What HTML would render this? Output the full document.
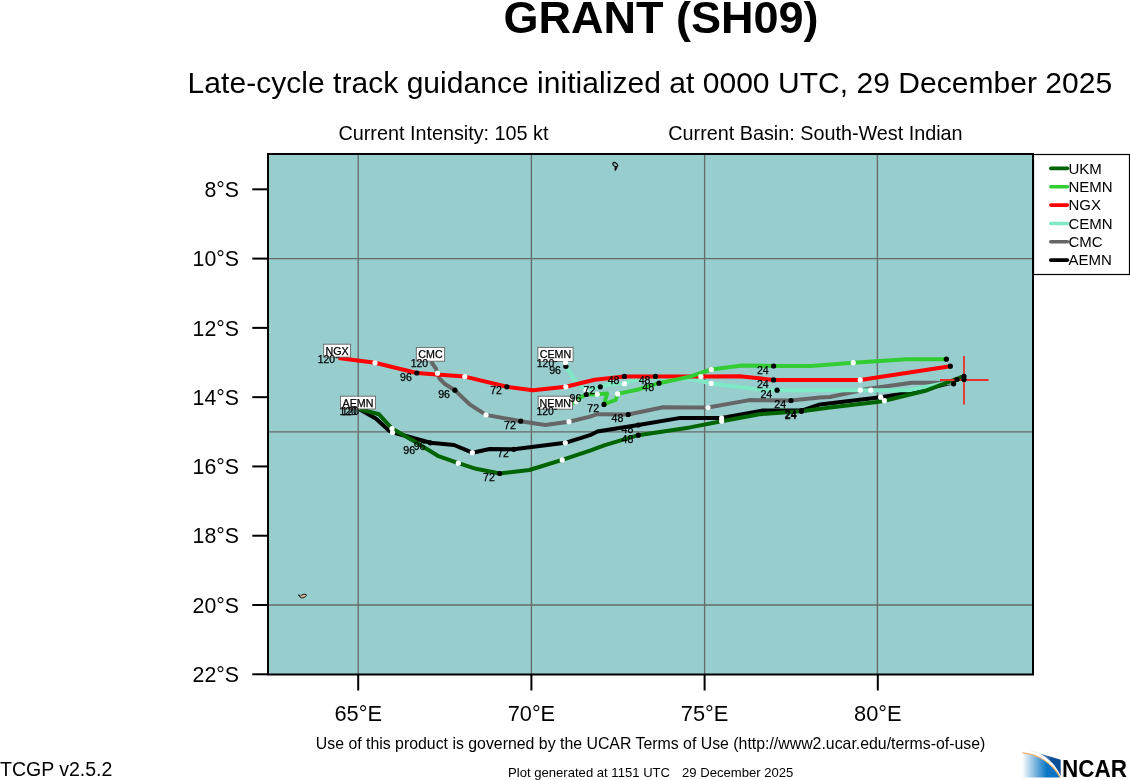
<!DOCTYPE html>
<html><head><meta charset="utf-8"><style>
html,body{margin:0;padding:0;background:#fff;width:1130px;height:780px;overflow:hidden;font-family:"Liberation Sans", sans-serif;}
</style></head><body>
<svg width="1130" height="780" viewBox="0 0 1130 780" style="position:absolute;left:0;top:0;will-change:transform"><rect x="268" y="154" width="765" height="520.5" fill="#97cdcd"/><line x1="358.2" y1="154" x2="358.2" y2="674.5" stroke="#666a6a" stroke-width="1.3"/><line x1="531.4" y1="154" x2="531.4" y2="674.5" stroke="#666a6a" stroke-width="1.3"/><line x1="704.6" y1="154" x2="704.6" y2="674.5" stroke="#666a6a" stroke-width="1.3"/><line x1="877.4" y1="154" x2="877.4" y2="674.5" stroke="#666a6a" stroke-width="1.3"/><line x1="268" y1="258.6" x2="1033" y2="258.6" stroke="#666a6a" stroke-width="1.3"/><line x1="268" y1="431.8" x2="1033" y2="431.8" stroke="#666a6a" stroke-width="1.3"/><line x1="268" y1="605.0" x2="1033" y2="605.0" stroke="#666a6a" stroke-width="1.3"/><ellipse cx="615.2" cy="164.6" rx="2.7" ry="1.7" transform="rotate(40 615.2 164.6)" fill="none" stroke="#000" stroke-width="1.1"/><path d="M615.6,166.2 C617,166.6 617.2,168 616.4,168.8 C616,169.8 615.6,170.6 615.2,170.6 C614.8,169.4 614.9,167.6 615.6,166.2 Z" fill="#111" stroke="#000" stroke-width="0.8"/><path d="M298.6,594.8 L300.6,596.1 C301.6,594.6 304.6,593.6 306.2,594.6 C306.8,595.8 305,597.6 302.4,597.9 C301,598.1 299.8,597.4 298.6,594.8 Z" fill="#d8b690" stroke="#000" stroke-width="0.9"/><path d="M964,376.4 L951.4,382.8 L909.2,392.7 L880.7,397.2 L820,404.4 L801.5,410.6 L761.9,410.6 L721.6,418 L680.5,417.9 L638.3,425 L597.4,431.5 L590,435.2 L565.3,442.8 L513.9,449.3 L489.7,449 L472.4,452.7 L454,445 L430.4,442.8 L397,433.5 L389.5,431 L375.8,418.6 L359.8,409.6" fill="none" stroke="#000000" stroke-width="4.0" stroke-linejoin="round" stroke-linecap="butt"/><path d="M953.8,383.4 L936.5,382.8 L911.7,382.8 L867,389 L830,397 L820,397.6 L791,400.5 L749.5,400.1 L708,407.5 L690,407.5 L663.1,407.3 L628.2,414.5 L597.4,414.2 L590,416.6 L569,421.7 L545.3,424.9 L520.7,421.2 L486,414.9 L469.7,404.4 L454.9,390.2 L444.9,384 L439.5,378.6 L437.5,373.2 L435.9,368.7 L431,361.5" fill="none" stroke="#666666" stroke-width="4.0" stroke-linejoin="round" stroke-linecap="butt"/><path d="M964,379.5 L925.3,387 L909.2,390.2 L830,390.2 L777.1,390.2 L759.4,389.6 L711.3,383.4 L690,379 L655.4,377.5 L640,379 L630,381.2 L624.4,383.7 L609.6,384.3 L600.3,386.8 L586,390 L582.3,387.4 L574.6,380 L565.9,366.3 L565.6,362.9" fill="none" stroke="#7fe8c4" stroke-width="4.0" stroke-linejoin="round" stroke-linecap="butt"/><path d="M950.3,366.2 L860.3,379.9 L851,379.9 L773.6,379.9 L739.6,376.2 L700.9,376.6 L684,376.4 L624.4,376.4 L594.7,379.7 L565.8,386.8 L533,390.2 L506.9,386.8 L464.8,376.6 L440,374.7 L416.8,373 L375,362.8 L338.5,357.9" fill="none" stroke="#ff0000" stroke-width="4.0" stroke-linejoin="round" stroke-linecap="butt"/><path d="M946.4,359.2 L906.7,359.2 L853.2,362.7 L811,365.9 L773.6,366 L742,365.4 L711.3,369.5 L690,376.6 L659,383.2 L639.2,389.2 L617.6,393.9 L615.8,399.8 L612.7,401 L604,404.4 L607.1,393.6 L597.2,394.2 L586.3,394.5 L578.6,398.5 L576.1,401.6 L558.7,408.3" fill="none" stroke="#32cd32" stroke-width="4.0" stroke-linejoin="round" stroke-linecap="butt"/><path d="M962,376.8 L925.3,390.8 L884.4,400.7 L877,402 L830,407.5 L801.5,411.3 L759.4,414.3 L721.6,421.2 L690,427.4 L638.3,435.2 L604.9,445.1 L590,450.7 L562.2,459.9 L529.4,470 L499.7,473.5 L476.1,468.8 L458.3,463.2 L437.8,455.8 L415.5,442 L392,428.5 L379,414.3 L359.7,409.3" fill="none" stroke="#006400" stroke-width="4.0" stroke-linejoin="round" stroke-linecap="butt"/><rect x="323.7" y="344.2" width="26.9" height="12.9" fill="#fff" stroke="#666" stroke-width="0.9"/><text x="337.15" y="354.8" font-size="10.7" text-anchor="middle" stroke="#000" stroke-width="0.25" font-family='"Liberation Sans", sans-serif'>NGX</text><rect x="416.3" y="347.6" width="28.3" height="13.6" fill="#fff" stroke="#666" stroke-width="0.9"/><text x="430.45" y="357.6" font-size="10.7" text-anchor="middle" stroke="#000" stroke-width="0.25" font-family='"Liberation Sans", sans-serif'>CMC</text><rect x="537.9" y="347.4" width="35.2" height="14" fill="#fff" stroke="#666" stroke-width="0.9"/><text x="555.5" y="358.2" font-size="10.7" text-anchor="middle" stroke="#000" stroke-width="0.25" font-family='"Liberation Sans", sans-serif'>CEMN</text><rect x="538.2" y="396.2" width="34.3" height="13" fill="#fff" stroke="#666" stroke-width="0.9"/><text x="555.35" y="406.8" font-size="10.7" text-anchor="middle" stroke="#000" stroke-width="0.25" font-family='"Liberation Sans", sans-serif'>NEMN</text><rect x="340.5" y="396.2" width="35" height="12.8" fill="#fff" stroke="#666" stroke-width="0.9"/><text x="358.0" y="406.8" font-size="10.7" text-anchor="middle" stroke="#000" stroke-width="0.25" font-family='"Liberation Sans", sans-serif'>AEMN</text><line x1="964" y1="356" x2="964" y2="404.5" stroke="#e8302a" stroke-width="1.8"/><line x1="940" y1="380" x2="988.5" y2="380" stroke="#e8302a" stroke-width="1.8"/><circle cx="860.3" cy="379.9" r="2.6" fill="#fff"/><circle cx="700.9" cy="376.6" r="2.6" fill="#fff"/><circle cx="565.8" cy="386.8" r="2.6" fill="#fff"/><circle cx="464.8" cy="376.6" r="2.6" fill="#fff"/><circle cx="375" cy="362.8" r="2.6" fill="#fff"/><circle cx="853.2" cy="362.7" r="2.6" fill="#fff"/><circle cx="711.3" cy="369.5" r="2.6" fill="#fff"/><circle cx="617.6" cy="393.9" r="2.6" fill="#fff"/><circle cx="597.2" cy="394.2" r="2.6" fill="#fff"/><circle cx="576.1" cy="401.6" r="2.6" fill="#fff"/><circle cx="870.8" cy="390.2" r="2.6" fill="#fff"/><circle cx="860.3" cy="390.2" r="2.6" fill="#fff"/><circle cx="711.3" cy="383.4" r="2.6" fill="#fff"/><circle cx="624.4" cy="383.7" r="2.6" fill="#fff"/><circle cx="586" cy="390" r="2.6" fill="#fff"/><circle cx="565.6" cy="362.9" r="2.6" fill="#fff"/><circle cx="708" cy="407.5" r="2.6" fill="#fff"/><circle cx="569" cy="421.7" r="2.6" fill="#fff"/><circle cx="486" cy="414.9" r="2.6" fill="#fff"/><circle cx="437.5" cy="373.2" r="2.6" fill="#fff"/><circle cx="880.7" cy="397.2" r="2.6" fill="#fff"/><circle cx="721.6" cy="418" r="2.6" fill="#fff"/><circle cx="565.3" cy="442.8" r="2.6" fill="#fff"/><circle cx="472.4" cy="452.7" r="2.6" fill="#fff"/><circle cx="392.6" cy="432.5" r="2.6" fill="#fff"/><circle cx="884.4" cy="400.7" r="2.6" fill="#fff"/><circle cx="721.6" cy="421.2" r="2.6" fill="#fff"/><circle cx="562.2" cy="459.9" r="2.6" fill="#fff"/><circle cx="458.3" cy="463.2" r="2.6" fill="#fff"/><circle cx="392" cy="428.5" r="2.6" fill="#fff"/><circle cx="946.4" cy="359.2" r="2.6" fill="#000"/><circle cx="950.3" cy="366.2" r="2.6" fill="#000"/><circle cx="953.7" cy="383.8" r="2.6" fill="#000"/><circle cx="957" cy="379.5" r="2.6" fill="#000"/><circle cx="964" cy="376.4" r="2.6" fill="#000"/><circle cx="964" cy="379.5" r="2.6" fill="#000"/><circle cx="773.6" cy="366" r="2.6" fill="#000"/><circle cx="659" cy="383.2" r="2.6" fill="#000"/><circle cx="604" cy="404.4" r="2.6" fill="#000"/><circle cx="586.3" cy="394.5" r="2.6" fill="#000"/><circle cx="773.6" cy="379.9" r="2.6" fill="#000"/><circle cx="624.4" cy="376.4" r="2.6" fill="#000"/><circle cx="506.9" cy="386.8" r="2.6" fill="#000"/><circle cx="416.8" cy="373" r="2.6" fill="#000"/><circle cx="777.1" cy="390.2" r="2.6" fill="#000"/><circle cx="655.4" cy="376.4" r="2.6" fill="#000"/><circle cx="600.3" cy="386.8" r="2.6" fill="#000"/><circle cx="565.9" cy="366.3" r="2.6" fill="#000"/><circle cx="791" cy="400.5" r="2.6" fill="#000"/><circle cx="628.2" cy="414.5" r="2.6" fill="#000"/><circle cx="520.7" cy="421.2" r="2.6" fill="#000"/><circle cx="454.9" cy="390.2" r="2.6" fill="#000"/><circle cx="801.5" cy="410.6" r="2.6" fill="#000"/><circle cx="638.3" cy="425" r="2.6" fill="#000"/><circle cx="513.9" cy="449.3" r="2.6" fill="#000"/><circle cx="430.4" cy="442.8" r="2.6" fill="#000"/><circle cx="801.5" cy="411.3" r="2.6" fill="#000"/><circle cx="638.3" cy="435.2" r="2.6" fill="#000"/><circle cx="499.7" cy="473.5" r="2.6" fill="#000"/><circle cx="565.6" cy="362.6" r="2.6" fill="#fff"/><line x1="335.6" y1="357.6" x2="339.6" y2="357.6" stroke="#222" stroke-width="1.1"/><line x1="554" y1="361.6" x2="557.2" y2="361.6" stroke="#222" stroke-width="1.1"/><line x1="553.9" y1="409.3" x2="557.2" y2="409.3" stroke="#222" stroke-width="1.1"/><text x="335.1" y="363.1" font-size="10.4" text-anchor="end" stroke="#000" stroke-width="0.25" font-family='"Liberation Sans", sans-serif'>120</text><text x="428.1" y="366.9" font-size="10.4" text-anchor="end" stroke="#000" stroke-width="0.25" font-family='"Liberation Sans", sans-serif'>120</text><text x="554.2" y="366.6" font-size="10.4" text-anchor="end" stroke="#000" stroke-width="0.25" font-family='"Liberation Sans", sans-serif'>120</text><text x="553.8" y="415.2" font-size="10.4" text-anchor="end" stroke="#000" stroke-width="0.25" font-family='"Liberation Sans", sans-serif'>120</text><text x="356.8" y="414.9" font-size="10.4" text-anchor="end" stroke="#000" stroke-width="0.25" font-family='"Liberation Sans", sans-serif'>120</text><text x="359.0" y="414.9" font-size="10.4" text-anchor="end" stroke="#000" stroke-width="0.25" font-family='"Liberation Sans", sans-serif'>120</text><text x="768.7" y="373.6" font-size="10.6" text-anchor="end" stroke="#000" stroke-width="0.25" font-family='"Liberation Sans", sans-serif'>24</text><text x="768.7" y="387.5" font-size="10.6" text-anchor="end" stroke="#000" stroke-width="0.25" font-family='"Liberation Sans", sans-serif'>24</text><text x="772.2" y="397.8" font-size="10.6" text-anchor="end" stroke="#000" stroke-width="0.25" font-family='"Liberation Sans", sans-serif'>24</text><text x="786.1" y="408.1" font-size="10.6" text-anchor="end" stroke="#000" stroke-width="0.25" font-family='"Liberation Sans", sans-serif'>24</text><text x="796.6" y="418.20000000000005" font-size="10.6" text-anchor="end" stroke="#000" stroke-width="0.25" font-family='"Liberation Sans", sans-serif'>24</text><text x="796.6" y="418.90000000000003" font-size="10.6" text-anchor="end" stroke="#000" stroke-width="0.25" font-family='"Liberation Sans", sans-serif'>24</text><text x="619.5" y="384.0" font-size="10.6" text-anchor="end" stroke="#000" stroke-width="0.25" font-family='"Liberation Sans", sans-serif'>48</text><text x="650.5" y="384.0" font-size="10.6" text-anchor="end" stroke="#000" stroke-width="0.25" font-family='"Liberation Sans", sans-serif'>48</text><text x="654.1" y="390.8" font-size="10.6" text-anchor="end" stroke="#000" stroke-width="0.25" font-family='"Liberation Sans", sans-serif'>48</text><text x="623.3000000000001" y="422.1" font-size="10.6" text-anchor="end" stroke="#000" stroke-width="0.25" font-family='"Liberation Sans", sans-serif'>48</text><text x="633.4" y="432.6" font-size="10.6" text-anchor="end" stroke="#000" stroke-width="0.25" font-family='"Liberation Sans", sans-serif'>48</text><text x="633.4" y="442.8" font-size="10.6" text-anchor="end" stroke="#000" stroke-width="0.25" font-family='"Liberation Sans", sans-serif'>48</text><text x="502.0" y="394.40000000000003" font-size="10.6" text-anchor="end" stroke="#000" stroke-width="0.25" font-family='"Liberation Sans", sans-serif'>72</text><text x="595.4" y="394.40000000000003" font-size="10.6" text-anchor="end" stroke="#000" stroke-width="0.25" font-family='"Liberation Sans", sans-serif'>72</text><text x="599.1" y="412.0" font-size="10.6" text-anchor="end" stroke="#000" stroke-width="0.25" font-family='"Liberation Sans", sans-serif'>72</text><text x="515.8000000000001" y="428.8" font-size="10.6" text-anchor="end" stroke="#000" stroke-width="0.25" font-family='"Liberation Sans", sans-serif'>72</text><text x="509.0" y="456.90000000000003" font-size="10.6" text-anchor="end" stroke="#000" stroke-width="0.25" font-family='"Liberation Sans", sans-serif'>72</text><text x="494.8" y="481.1" font-size="10.6" text-anchor="end" stroke="#000" stroke-width="0.25" font-family='"Liberation Sans", sans-serif'>72</text><text x="411.90000000000003" y="380.6" font-size="10.6" text-anchor="end" stroke="#000" stroke-width="0.25" font-family='"Liberation Sans", sans-serif'>96</text><text x="581.4" y="402.1" font-size="10.6" text-anchor="end" stroke="#000" stroke-width="0.25" font-family='"Liberation Sans", sans-serif'>96</text><text x="561.0" y="373.90000000000003" font-size="10.6" text-anchor="end" stroke="#000" stroke-width="0.25" font-family='"Liberation Sans", sans-serif'>96</text><text x="450.0" y="397.8" font-size="10.6" text-anchor="end" stroke="#000" stroke-width="0.25" font-family='"Liberation Sans", sans-serif'>96</text><text x="425.5" y="450.40000000000003" font-size="10.6" text-anchor="end" stroke="#000" stroke-width="0.25" font-family='"Liberation Sans", sans-serif'>96</text><text x="415.1" y="453.6" font-size="10.6" text-anchor="end" stroke="#000" stroke-width="0.25" font-family='"Liberation Sans", sans-serif'>96</text><rect x="268" y="154" width="765" height="520.5" fill="none" stroke="#000" stroke-width="2"/><line x1="252.3" y1="189.32000000000002" x2="268" y2="189.32000000000002" stroke="#000" stroke-width="2"/><text x="239" y="197.02" font-size="21.3" text-anchor="end" font-family='"Liberation Sans", sans-serif'>8°S</text><line x1="252.3" y1="258.6" x2="268" y2="258.6" stroke="#000" stroke-width="2"/><text x="239" y="266.3" font-size="21.3" text-anchor="end" font-family='"Liberation Sans", sans-serif'>10°S</text><line x1="252.3" y1="327.88" x2="268" y2="327.88" stroke="#000" stroke-width="2"/><text x="239" y="335.58" font-size="21.3" text-anchor="end" font-family='"Liberation Sans", sans-serif'>12°S</text><line x1="252.3" y1="397.16" x2="268" y2="397.16" stroke="#000" stroke-width="2"/><text x="239" y="404.86" font-size="21.3" text-anchor="end" font-family='"Liberation Sans", sans-serif'>14°S</text><line x1="252.3" y1="466.44000000000005" x2="268" y2="466.44000000000005" stroke="#000" stroke-width="2"/><text x="239" y="474.14000000000004" font-size="21.3" text-anchor="end" font-family='"Liberation Sans", sans-serif'>16°S</text><line x1="252.3" y1="535.72" x2="268" y2="535.72" stroke="#000" stroke-width="2"/><text x="239" y="543.4200000000001" font-size="21.3" text-anchor="end" font-family='"Liberation Sans", sans-serif'>18°S</text><line x1="252.3" y1="605.0" x2="268" y2="605.0" stroke="#000" stroke-width="2"/><text x="239" y="612.7" font-size="21.3" text-anchor="end" font-family='"Liberation Sans", sans-serif'>20°S</text><line x1="252.3" y1="674.28" x2="268" y2="674.28" stroke="#000" stroke-width="2"/><text x="239" y="681.98" font-size="21.3" text-anchor="end" font-family='"Liberation Sans", sans-serif'>22°S</text><line x1="358.2" y1="674.5" x2="358.2" y2="690.5" stroke="#000" stroke-width="2"/><text x="358.2" y="720.8" font-size="21.8" text-anchor="middle" font-family='"Liberation Sans", sans-serif'>65°E</text><line x1="531.4" y1="674.5" x2="531.4" y2="690.5" stroke="#000" stroke-width="2"/><text x="531.4" y="720.8" font-size="21.8" text-anchor="middle" font-family='"Liberation Sans", sans-serif'>70°E</text><line x1="704.5999999999999" y1="674.5" x2="704.5999999999999" y2="690.5" stroke="#000" stroke-width="2"/><text x="704.5999999999999" y="720.8" font-size="21.8" text-anchor="middle" font-family='"Liberation Sans", sans-serif'>75°E</text><line x1="877.8" y1="674.5" x2="877.8" y2="690.5" stroke="#000" stroke-width="2"/><text x="877.8" y="720.8" font-size="21.8" text-anchor="middle" font-family='"Liberation Sans", sans-serif'>80°E</text><rect x="1033.5" y="154.5" width="96" height="120" fill="#fff" stroke="#000" stroke-width="1.2"/><line x1="1050.8" y1="168.4" x2="1067.4" y2="168.4" stroke="#006400" stroke-width="3.6" stroke-linecap="round"/><text x="1068.5" y="173.70000000000002" font-size="15" font-family='"Liberation Sans", sans-serif'>UKM</text><line x1="1050.8" y1="186.75" x2="1067.4" y2="186.75" stroke="#32cd32" stroke-width="3.6" stroke-linecap="round"/><text x="1068.5" y="192.05" font-size="15" font-family='"Liberation Sans", sans-serif'>NEMN</text><line x1="1050.8" y1="205.10000000000002" x2="1067.4" y2="205.10000000000002" stroke="#ff0000" stroke-width="3.6" stroke-linecap="round"/><text x="1068.5" y="210.40000000000003" font-size="15" font-family='"Liberation Sans", sans-serif'>NGX</text><line x1="1050.8" y1="223.45000000000002" x2="1067.4" y2="223.45000000000002" stroke="#7fe8c4" stroke-width="3.6" stroke-linecap="round"/><text x="1068.5" y="228.75000000000003" font-size="15" font-family='"Liberation Sans", sans-serif'>CEMN</text><line x1="1050.8" y1="241.8" x2="1067.4" y2="241.8" stroke="#666666" stroke-width="3.6" stroke-linecap="round"/><text x="1068.5" y="247.10000000000002" font-size="15" font-family='"Liberation Sans", sans-serif'>CMC</text><line x1="1050.8" y1="260.15" x2="1067.4" y2="260.15" stroke="#000000" stroke-width="3.6" stroke-linecap="round"/><text x="1068.5" y="265.45" font-size="15" font-family='"Liberation Sans", sans-serif'>AEMN</text><text x="661" y="33" font-size="45" font-weight="bold" text-anchor="middle" font-family='"Liberation Sans", sans-serif'>GRANT (SH09)</text><text x="187.6" y="92.9" font-size="30" textLength="924.6" font-family='"Liberation Sans", sans-serif'>Late-cycle track guidance initialized at 0000 UTC, 29 December 2025</text><text x="338.5" y="140" font-size="19.8" font-family='"Liberation Sans", sans-serif'>Current Intensity: 105 kt</text><text x="668.3" y="140" font-size="19.8" font-family='"Liberation Sans", sans-serif'>Current Basin: South-West Indian</text><text x="650.6" y="748.9" font-size="15.87" text-anchor="middle" font-family='"Liberation Sans", sans-serif'>Use of this product is governed by the UCAR Terms of Use (http://www2.ucar.edu/terms-of-use)</text><text x="508" y="776.5" font-size="13.1" font-family='"Liberation Sans", sans-serif'>Plot generated at 1151 UTC</text><text x="682" y="776.5" font-size="13.1" font-family='"Liberation Sans", sans-serif'>29 December 2025</text><text x="0" y="776.3" font-size="19.5" font-family='"Liberation Sans", sans-serif'>TCGP v2.5.2</text><defs><linearGradient id="lg" gradientUnits="userSpaceOnUse" x1="1022" y1="0" x2="1060" y2="0"><stop offset="0" stop-color="#fff"/><stop offset="0.65" stop-color="#0a76c4"/><stop offset="1" stop-color="#0a70c0"/></linearGradient><linearGradient id="lg2" gradientUnits="userSpaceOnUse" x1="1027" y1="0" x2="1052" y2="0"><stop offset="0" stop-color="#0b4e98" stop-opacity="0"/><stop offset="1" stop-color="#0b4e98" stop-opacity="1"/></linearGradient></defs><path d="M1022.3,752.8 C1038,754 1052,763 1060.3,777.6 L1022.3,777.6 Z" fill="url(#lg)"/><path d="M1027,749.4 L1060.7,759.8 L1060.7,776 C1054,761 1042,752 1027,749.4 Z" fill="url(#lg2)"/><path d="M1022.3,752.9 C1038,754 1052,763 1060.3,777.4" fill="none" stroke="#f7ae6a" stroke-width="1.1"/><text x="1062" y="777.3" font-size="23.5" font-weight="bold" font-family='"Liberation Sans", sans-serif' textLength="65" lengthAdjust="spacingAndGlyphs">NCAR</text></svg>
</body></html>
